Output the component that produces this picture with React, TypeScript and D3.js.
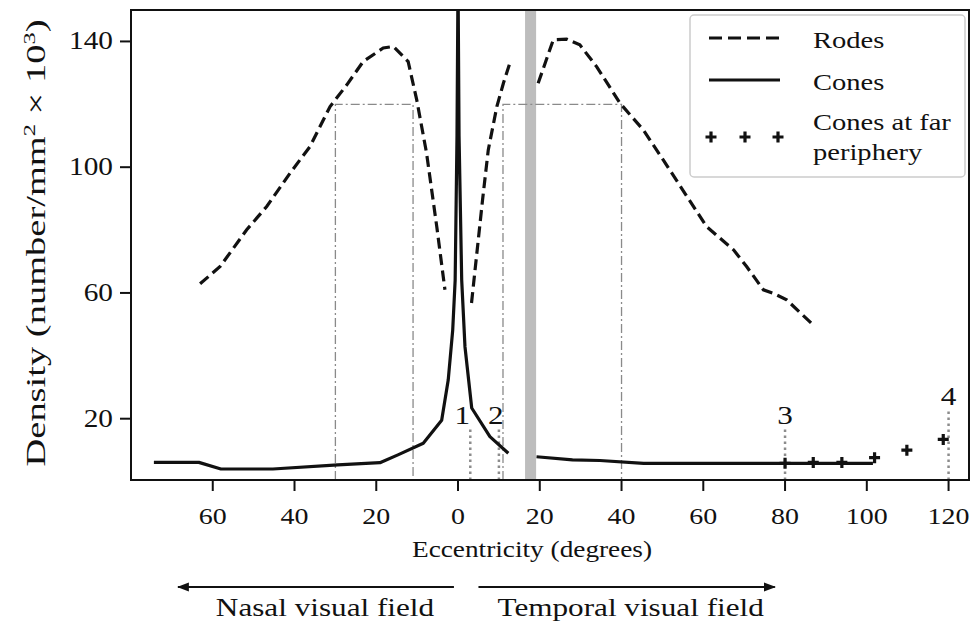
import React, { useEffect, useRef } from 'react';
import * as d3 from 'd3';

// eccentricity (deg, nasal negative) / density (number/mm^2 x 10^3)
const rodsNasal: [number, number][] = [
  [-63.1, 62.9], [-58.2, 68.4], [-51.7, 80.1], [-46.8, 87.5], [-41.1, 98.1], [-36.2, 106.6],
  [-31.3, 119.3], [-27.2, 126.2], [-23.2, 133.6], [-18.3, 137.9], [-15.8, 138.4], [-12.2, 133.6],
  [-10.1, 121.4], [-7.7, 104.5], [-5.2, 81.1], [-3.2, 61.0],
];
const rodsTemporalInner: [number, number][] = [
  [3.3, 56.8], [6.0, 89.6], [7.4, 105.5], [9.5, 119.3], [11.1, 126.7], [12.55, 132.6],
];
const rodsTemporalOuter: [number, number][] = [
  [19.6, 126.7], [23.3, 140.5], [26.6, 140.7], [29.8, 138.9], [33.9, 132.0], [39.6, 120.4],
  [45.3, 111.9], [50.2, 102.3], [56.0, 90.7], [60.8, 81.1], [67.4, 73.7], [70.6, 68.4],
  [74.7, 61.0], [77.1, 59.9], [80.4, 57.8], [86.9, 49.8],
];
const conesCentral: [number, number][] = [
  [-74.4, 6.1], [-63.4, 6.1], [-58.0, 4.0], [-45.3, 4.0], [-29.4, 5.3], [-19.1, 6.0],
  [-14.7, 8.5], [-8.5, 12.2], [-4.0, 19.5], [-2.4, 32.3], [-1.3, 48.2], [-0.7, 64.1],
  [-0.25, 110], [0, 160], [0.25, 110], [0.9, 64.1], [1.7, 42.9], [3.35, 23.4],
  [7.8, 14.3], [12.3, 9.0],
];
const conesTemporal: [number, number][] = [
  [19.2, 7.9], [28.0, 6.9], [34.7, 6.7], [45.4, 5.8], [101.5, 5.8],
];
const conesFarPeriphery: [number, number][] = [
  [80, 5.8], [86.9, 6.1], [93.9, 6.1], [101.9, 7.6], [109.8, 10.0], [118.7, 13.4],
];

const blindSpot = [16.4, 19.1];
const boxNasal = [-30, -11];
const boxTemporal = [11, 40];
const boxTop = 120;
const refLines = [
  { label: '1', x: 3, top: 17.4, dx: -8 },
  { label: '2', x: 10, top: 17.4, dx: -3 },
  { label: '3', x: 80, top: 17.4, dx: 0 },
  { label: '4', x: 120, top: 23.4, dx: 0 },
];
const xTicks = [-60, -40, -20, 0, 20, 40, 60, 80, 100, 120];
const yTicks = [20, 60, 100, 140];
const nasalArrow = [-1, -68.5];
const temporalArrow = [5, 77.5];

const W = 971;
const H = 621;
const margin = { top: 10, right: 2, bottom: 141, left: 131 };
const SX = 1.2;
const FONT = "'Liberation Serif', 'Times New Roman', serif";

const App = () => {
  const svgRef = useRef<SVGSVGElement>(null);

  useEffect(() => {
    const svg = d3.select(svgRef.current);
    svg.selectAll('*').remove();

    const x = d3.scaleLinear().domain([-80, 125]).range([margin.left, W - margin.right]);
    const y = d3.scaleLinear().domain([0.5, 150]).range([H - margin.bottom, margin.top]);
    const [x0, x1] = x.range();
    const [yb, yt] = y.range();

    const text = (g: any, tx: number, ty: number, s: string, size: number, anchor = 'middle') =>
      g.append('text')
        .attr('transform', `translate(${tx},${ty}) scale(${SX},1)`)
        .attr('text-anchor', anchor)
        .attr('font-family', FONT)
        .attr('font-size', size)
        .attr('fill', '#111')
        .text(s);

    const defs = svg.append('defs');
    defs.append('clipPath').attr('id', 'plotclip')
      .append('rect').attr('x', x0).attr('y', yt).attr('width', x1 - x0).attr('height', yb - yt);
    defs.append('marker').attr('id', 'arrowhead')
      .attr('viewBox', '0 0 10 10').attr('refX', 9).attr('refY', 5)
      .attr('markerWidth', 5.5).attr('markerHeight', 5.5).attr('orient', 'auto-start-reverse')
      .append('path').attr('d', 'M0,1.2L10,5L0,8.8Z').attr('fill', '#111');

    const plot = svg.append('g').attr('clip-path', 'url(#plotclip)');

    // blind spot
    plot.append('rect')
      .attr('x', x(blindSpot[0])).attr('width', x(blindSpot[1]) - x(blindSpot[0]))
      .attr('y', yt).attr('height', yb - yt)
      .attr('fill', '#bdbdbd');

    // dash-dot boxes
    [boxNasal, boxTemporal].forEach(([a, b]) => {
      plot.append('path')
        .attr('d', `M${x(a)},${yb}V${y(boxTop)}H${x(b)}V${yb}`)
        .attr('fill', 'none').attr('stroke', '#8a8a8a').attr('stroke-width', 1.3)
        .attr('stroke-dasharray', '9,3,2,3');
    });

    // numbered reference lines
    refLines.forEach((r) => {
      plot.append('line')
        .attr('x1', x(r.x)).attr('x2', x(r.x)).attr('y1', yb).attr('y2', y(r.top))
        .attr('stroke', '#8c8c8c').attr('stroke-width', 2.5).attr('stroke-dasharray', '2.5,3.5');
      text(svg, x(r.x) + r.dx, y(r.top) - 3, r.label, 26);
    });

    const line = d3.line<[number, number]>().x((d) => x(d[0])).y((d) => y(d[1]));

    [rodsNasal, rodsTemporalInner, rodsTemporalOuter].forEach((seg) => {
      plot.append('path').attr('d', line(seg)!)
        .attr('fill', 'none').attr('stroke', '#111').attr('stroke-width', 3.2)
        .attr('stroke-dasharray', '11,5.5');
    });
    [conesCentral, conesTemporal].forEach((seg) => {
      plot.append('path').attr('d', line(seg)!)
        .attr('fill', 'none').attr('stroke', '#111').attr('stroke-width', 3.2)
        .attr('stroke-linejoin', 'round');
    });

    const plus = 'M-5.5,0H5.5M0,-5.5V5.5';
    plot.selectAll('path.far').data(conesFarPeriphery).join('path')
      .attr('class', 'far')
      .attr('d', plus)
      .attr('transform', (d) => `translate(${x(d[0])},${y(d[1])})`)
      .attr('stroke', '#111').attr('stroke-width', 3.2);

    // frame
    svg.append('rect')
      .attr('x', x0).attr('y', yt).attr('width', x1 - x0).attr('height', yb - yt)
      .attr('fill', 'none').attr('stroke', '#111').attr('stroke-width', 2);

    // x axis
    xTicks.forEach((t) => {
      svg.append('line').attr('x1', x(t)).attr('x2', x(t)).attr('y1', yb).attr('y2', yb + 11)
        .attr('stroke', '#111').attr('stroke-width', 2);
      text(svg, x(t), yb + 44, String(Math.abs(t)), 23.3);
    });
    // y axis
    yTicks.forEach((t) => {
      svg.append('line').attr('x1', x0 - 11).attr('x2', x0).attr('y1', y(t)).attr('y2', y(t))
        .attr('stroke', '#111').attr('stroke-width', 2);
      text(svg, x0 - 18, y(t) + 8, String(t), 24.4, 'end');
    });

    text(svg, 532, 557, 'Eccentricity (degrees)', 22.75);

    const ylab = svg.append('text')
      .attr('transform', `translate(35,243) rotate(-90) scale(1.75,1.25)`)
      .attr('text-anchor', 'middle').attr('dy', '0.35em')
      .attr('font-family', FONT).attr('font-size', 22).attr('fill', '#111');
    ylab.append('tspan').text('Density (number/mm');
    ylab.append('tspan').attr('dy', -8).attr('font-size', 14).text('2');
    ylab.append('tspan').attr('dy', 8).text(' \u00d7 10');
    ylab.append('tspan').attr('dy', -8).attr('font-size', 14).text('3');
    ylab.append('tspan').attr('dy', 8).text(')');

    // field arrows
    const arrowY = 587;
    [
      { a: nasalArrow, label: 'Nasal visual field', dx: 9 },
      { a: temporalArrow, label: 'Temporal visual field', dx: 4 },
    ].forEach(({ a, label, dx }) => {
      svg.append('line')
        .attr('x1', x(a[0])).attr('x2', x(a[1])).attr('y1', arrowY).attr('y2', arrowY)
        .attr('stroke', '#111').attr('stroke-width', 2.2).attr('marker-end', 'url(#arrowhead)');
      text(svg, (x(a[0]) + x(a[1])) / 2 + dx, arrowY + 29, label, 26);
    });

    // legend
    const lg = svg.append('g');
    lg.append('rect').attr('x', 690).attr('y', 15).attr('width', 275).attr('height', 162)
      .attr('rx', 4).attr('fill', '#fff').attr('fill-opacity', 0.85)
      .attr('stroke', '#cccccc').attr('stroke-width', 1.5);
    lg.append('line').attr('x1', 709).attr('x2', 780).attr('y1', 38).attr('y2', 38)
      .attr('stroke', '#111').attr('stroke-width', 3).attr('stroke-dasharray', '13,6');
    text(lg, 813, 48, 'Rodes', 23.8, 'start');
    lg.append('line').attr('x1', 709).attr('x2', 780).attr('y1', 80).attr('y2', 80)
      .attr('stroke', '#111').attr('stroke-width', 3);
    text(lg, 813, 90, 'Cones', 23.8, 'start');
    [711, 745, 778].forEach((px) => {
      lg.append('path').attr('d', plus).attr('transform', `translate(${px},137)`)
        .attr('stroke', '#111').attr('stroke-width', 3.2);
    });
    text(lg, 813, 130, 'Cones at far', 23.8, 'start');
    text(lg, 813, 160, 'periphery', 23.8, 'start');
  }, []);

  return (
    <svg
      ref={svgRef}
      width={W}
      height={H}
      style={{ position: 'absolute', left: 0, top: 0, background: '#fff' }}
    />
  );
};

export default App;
